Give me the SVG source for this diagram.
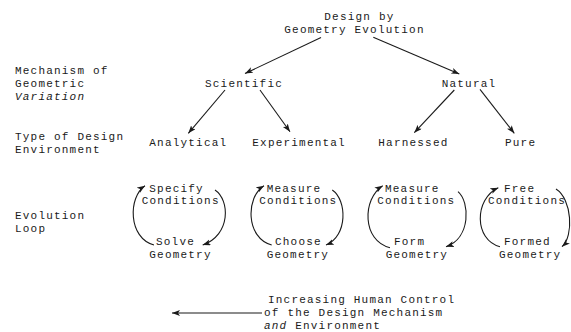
<svg xmlns="http://www.w3.org/2000/svg" width="571" height="332" viewBox="0 0 571 332">
  <style>
    text { font-family: "Liberation Mono", "Courier New", monospace; font-size: 11px; letter-spacing: 1.2px; fill: #1a1a1a; }
    .it { font-style: italic; }
    .edge { fill: none; stroke: #1a1a1a; stroke-width: 1.1; marker-end: url(#arr); }
  </style>
  <defs>
    <marker id="arr" markerUnits="userSpaceOnUse" markerWidth="9" markerHeight="7" refX="8" refY="3" orient="auto">
      <path d="M0,0 L8,3 L0,6 L2,3 Z" fill="#1a1a1a"/>
    </marker>
  </defs>
  <rect width="571" height="332" fill="#ffffff"/>

  <g id="row-labels">
    <text x="15" y="73.5">Mechanism of</text>
    <text x="15" y="86.5">Geometric</text>
    <text x="15" y="99.5" class="it">Variation</text>
    <text x="15" y="139.5">Type of Design</text>
    <text x="15" y="152.5">Environment</text>
    <text x="15" y="218.5">Evolution</text>
    <text x="15" y="231.5">Loop</text>
  </g>

  <g id="root">
    <text x="324.3" y="19.5">Design by</text>
    <text x="284.3" y="32.5">Geometry Evolution</text>
  </g>
  <g id="scientific"><text x="205" y="86.5">Scientific</text></g>
  <g id="natural"><text x="441.7" y="86.5">Natural</text></g>
  <g id="analytical"><text x="149.3" y="146">Analytical</text></g>
  <g id="experimental"><text x="252.3" y="146">Experimental</text></g>
  <g id="harnessed"><text x="378.3" y="146">Harnessed</text></g>
  <g id="pure"><text x="505" y="146">Pure</text></g>

  <g id="loop1-top"><text x="149.3" y="191.7">Specify</text><text x="141.7" y="204.3">Conditions</text></g>
  <g id="loop1-bottom"><text x="156" y="245">Solve</text><text x="149.3" y="257.7">Geometry</text></g>
  <g id="loop2-top"><text x="266.7" y="191.7">Measure</text><text x="259.3" y="204.3">Conditions</text></g>
  <g id="loop2-bottom"><text x="275" y="245">Choose</text><text x="266.7" y="257.7">Geometry</text></g>
  <g id="loop3-top"><text x="385" y="191.7">Measure</text><text x="377.3" y="204.3">Conditions</text></g>
  <g id="loop3-bottom"><text x="394" y="245">Form</text><text x="385.7" y="257.7">Geometry</text></g>
  <g id="loop4-top"><text x="504" y="191.7">Free</text><text x="488" y="204.3">Conditions</text></g>
  <g id="loop4-bottom"><text x="504" y="245">Formed</text><text x="499" y="257.7">Geometry</text></g>

  <g id="caption">
    <text x="268" y="303">Increasing Human Control</text>
    <text x="264" y="316">of the Design Mechanism</text>
    <text x="264" y="329"><tspan class="it">and</tspan> Environment</text>
  </g>

  <g id="connectors">
    <path class="edge" d="M321,37.5 L245,73.5"/>
    <path class="edge" d="M373.3,37.3 L459.3,74"/>
    <path class="edge" d="M225,90 L188.3,133.3"/>
    <path class="edge" d="M260,90 L290,131.7"/>
    <path class="edge" d="M454.3,90 L414.3,132.7"/>
    <path class="edge" d="M480,89.3 L514.3,133.3"/>

    <path class="edge" d="M154,245 C128,238 128,197 145,185.7"/>
    <path class="edge" d="M215,190 C230,200 231,235 202.7,245"/>
    <path class="edge" d="M271.7,245 C245.6,238 245.6,197 264,185.7"/>
    <path class="edge" d="M332.3,190 C347,200 348,236 326,245"/>
    <path class="edge" d="M390,247.7 C362,241 362,199 382.7,185.7"/>
    <path class="edge" d="M458,191.7 C470,202 471,238 446,246.7"/>
    <path class="edge" d="M500,246.7 C474,240 474,199 498.3,187.7"/>
    <path class="edge" d="M556,189 C572,199 574,236 562,246.7"/>

    <path class="edge" d="M262,313 L172,313"/>
  </g>
</svg>
